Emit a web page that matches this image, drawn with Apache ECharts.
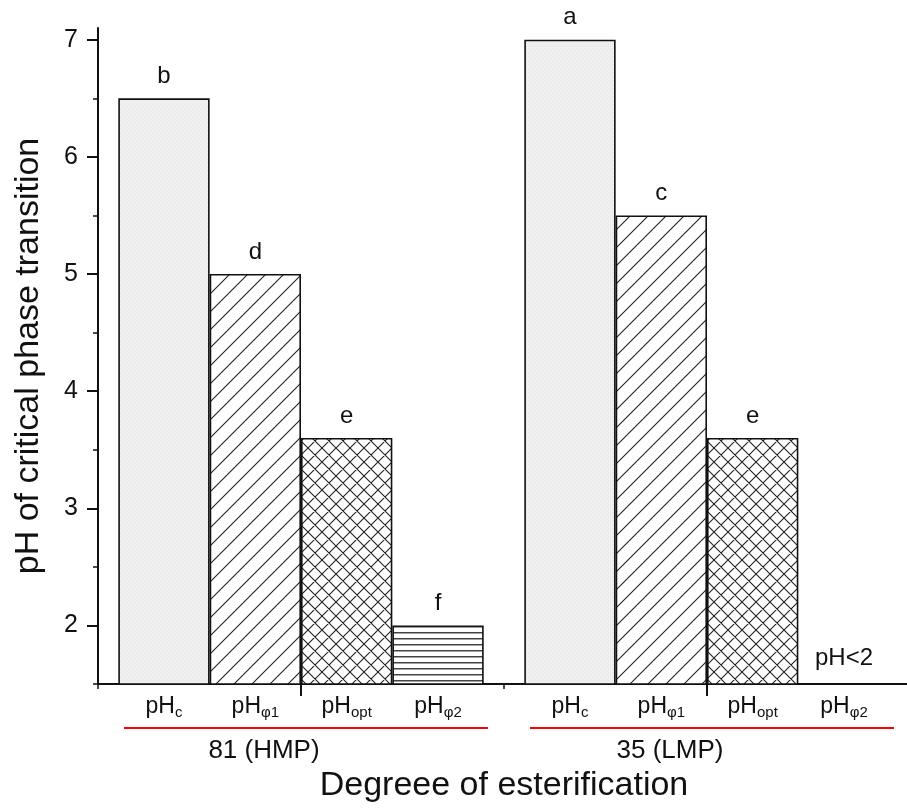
<!DOCTYPE html>
<html>
<head>
<meta charset="utf-8">
<script src="https://cdn.jsdelivr.net/npm/echarts@6/dist/echarts.min.js"></script>
<style>
  html, body { margin: 0; padding: 0; background: #ffffff; }
  #chart { width: 907px; height: 810px; }
</style>
</head>
<body>
<div id="chart"></div>
<script>
// ---- data ----
const groups = ['81 (HMP)', '35 (LMP)'];
const phaseSubscripts = ['c', 'φ1', 'opt', 'φ2'];
const pHc = [6.5, 7.0];
const pHphi1 = [5.0, 5.5];
const pHopt = [3.6, 3.6];
const pHphi2 = [2.0, null];          // LMP: transition lies below the measured range
const lettersC = ['b', 'a'];
const lettersPhi1 = ['d', 'c'];
const lettersOpt = ['e', 'e'];
const lettersPhi2 = ['f', ''];
const belowRangeNote = 'pH<2';
const yMajorTicks = [2, 3, 4, 5, 6, 7];
const yMinorTicks = [1.5, 2.5, 3.5, 4.5, 5.5, 6.5];
const yMin = 1.5;
const yMax = 7.1;

// ---- styling ----
const FONT = '"Liberation Sans", Arial, sans-serif';
const INK = '#111111';

function makeTile(w, h, draw) {
  const c = document.createElement('canvas');
  c.width = w; c.height = h;
  draw(c.getContext('2d'), w, h);
  return c;
}
const dotTile = makeTile(4, 4, (g, w, h) => {
  g.fillStyle = '#f0f0f0'; g.fillRect(0, 0, w, h);
  g.fillStyle = '#e2e2e2'; g.fillRect(0, 0, 1, 1); g.fillRect(2, 2, 1, 1);
});
const diagTile = makeTile(18, 18, (g, w, h) => {
  g.fillStyle = '#ffffff'; g.fillRect(0, 0, w, h);
  g.strokeStyle = '#222'; g.lineWidth = 1.1;
  g.beginPath();
  g.moveTo(-2, h + 2); g.lineTo(w + 2, -2);
  g.moveTo(-2, 2); g.lineTo(2, -2);
  g.moveTo(w - 2, h + 2); g.lineTo(w + 2, h - 2);
  g.stroke();
});
const crossTile = makeTile(14, 14, (g, w, h) => {
  g.fillStyle = '#ffffff'; g.fillRect(0, 0, w, h);
  g.strokeStyle = '#222'; g.lineWidth = 1.1;
  g.beginPath();
  g.moveTo(-2, h + 2); g.lineTo(w + 2, -2);
  g.moveTo(-2, 2); g.lineTo(2, -2);
  g.moveTo(w - 2, h + 2); g.lineTo(w + 2, h - 2);
  g.moveTo(-2, -2); g.lineTo(w + 2, h + 2);
  g.moveTo(w - 2, -2); g.lineTo(w + 2, 2);
  g.moveTo(-2, h - 2); g.lineTo(2, h + 2);
  g.stroke();
});
const lineTile = makeTile(6, 6, (g, w, h) => {
  g.fillStyle = '#ffffff'; g.fillRect(0, 0, w, h);
  g.fillStyle = '#444'; g.fillRect(0, 2, w, 1.5);
});

const phases = [
  { values: pHc,    letters: lettersC,    tile: dotTile,   sub: phaseSubscripts[0] },
  { values: pHphi1, letters: lettersPhi1, tile: diagTile,  sub: phaseSubscripts[1] },
  { values: pHopt,  letters: lettersOpt,  tile: crossTile, sub: phaseSubscripts[2] },
  { values: pHphi2, letters: lettersPhi2, tile: lineTile,  sub: phaseSubscripts[3] }
];

const barLayout = { barGap: '0%', barCategoryGap: '10%' };

// bars with significance letters on top
const barSeries = phases.map(p => Object.assign({
  type: 'bar',
  xAxisIndex: 0,
  yAxisIndex: 0,
  silent: true,
  itemStyle: { color: { image: p.tile, repeat: 'repeat' }, borderColor: INK, borderWidth: 1.6 },
  label: { show: true, position: 'top', distance: 10, fontSize: 24, color: INK, fontFamily: FONT },
  data: p.values.map((v, j) => v === null
    ? { value: yMin, itemStyle: { color: 'transparent', borderWidth: 0 },
        label: { formatter: belowRangeNote, distance: 14 } }
    : { value: v, label: { formatter: p.letters[j] } })
}, barLayout));

// phase names written under each bar slot
const phaseLabelSeries = phases.map(p => Object.assign({
  type: 'bar',
  xAxisIndex: 1,
  yAxisIndex: 0,
  silent: true,
  itemStyle: { color: 'transparent', borderWidth: 0 },
  label: {
    show: true, position: 'bottom', distance: 10,
    formatter: '{m|pH}{s|' + p.sub + '}',
    rich: {
      m: { fontSize: 23, lineHeight: 26, color: INK, fontFamily: FONT },
      s: { fontSize: 15, lineHeight: 12, verticalAlign: 'bottom', color: INK, fontFamily: FONT }
    }
  },
  data: groups.map(() => yMin)
}, barLayout));

const chart = echarts.init(document.getElementById('chart'), null, { renderer: 'canvas' });
chart.setOption({
  animation: false,
  backgroundColor: '#ffffff',
  grid: { left: 98, right: -3, top: 28, bottom: 126, containLabel: false, outerBoundsMode: 'none' },
  xAxis: [
    {
      type: 'category',
      data: groups,
      position: 'bottom',
      axisLine: { show: true, lineStyle: { color: INK, width: 2 } },
      axisTick: { show: true, alignWithLabel: true, length: 12, lineStyle: { color: INK, width: 2 } },
      axisLabel: {
        interval: 0,
        margin: 43,
        color: INK,
        fontFamily: FONT,
        formatter: v => '{gap|}{rule| }\n{grp|' + v + '}',
        rich: {
          gap: { width: 10, height: 2, lineHeight: 2, fontSize: 1 },
          rule: { width: 364, height: 2, lineHeight: 2, fontSize: 1, backgroundColor: '#ff0000' },
          grp: { fontSize: 26, lineHeight: 44, padding: [0, 74, 0, 0], color: INK, fontFamily: FONT }
        }
      },
      name: 'Degreee of esterification',
      nameLocation: 'middle',
      nameGap: 82,
      nameTextStyle: { fontSize: 34, color: INK, fontFamily: FONT }
    },
    {
      type: 'category',
      data: groups,
      position: 'bottom',
      axisLine: { show: false },
      axisTick: { show: true, length: 5, lineStyle: { color: INK, width: 1.5 } },
      axisLabel: { show: false }
    }
  ],
  yAxis: [
    {
      type: 'value',
      min: yMin,
      max: yMax,
      position: 'left',
      splitLine: { show: false },
      axisLine: { show: true, lineStyle: { color: INK, width: 2 } },
      axisTick: { show: true, customValues: yMajorTicks, length: 11, lineStyle: { color: INK, width: 2 } },
      axisLabel: { customValues: yMajorTicks, fontSize: 25, margin: 20, color: INK, fontFamily: FONT },
      name: 'pH of critical phase transition',
      nameLocation: 'middle',
      nameGap: 52,
      nameTextStyle: { fontSize: 34, color: INK, fontFamily: FONT }
    },
    {
      type: 'value',
      min: yMin,
      max: yMax,
      position: 'left',
      splitLine: { show: false },
      axisLine: { show: false },
      axisTick: { show: true, customValues: yMinorTicks, length: 5, lineStyle: { color: INK, width: 1.5 } },
      axisLabel: { show: false }
    }
  ],
  series: barSeries.concat(phaseLabelSeries)
});
</script>
</body>
</html>
